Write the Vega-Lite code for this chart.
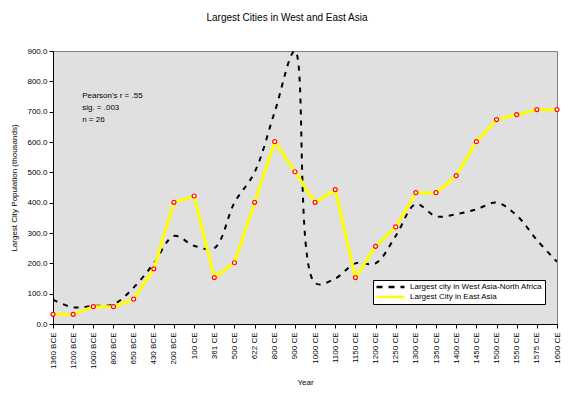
{
  "$schema": "https://vega.github.io/schema/vega-lite/v6.json",
  "width": 504,
  "height": 273,
  "autosize": "none",
  "padding": {"left": 53, "top": 51, "right": 19, "bottom": 70},
  "background": "white",
  "config": {
    "font": "Liberation Sans",
    "view": {"fill": "#E0E0E0", "stroke": "#808080", "strokeWidth": 1},
    "axis": {"grid": false, "domainColor": "black", "tickColor": "black", "labelColor": "black", "titleColor": "black", "labelFontSize": 8, "titleFontSize": 8, "titleFontWeight": "normal", "tickSize": 4}
  },
  "title": {"text": "Largest Cities in West and East Asia", "fontSize": 10, "fontWeight": "normal", "color": "black", "offset": 24, "anchor": "middle", "frame": "bounds"},
  "data": {"values": [
    {"year": "1360 BCE", "series": "Largest city in West Asia-North Africa", "value": 80},
    {"year": "1200 BCE", "series": "Largest city in West Asia-North Africa", "value": 55},
    {"year": "1000 BCE", "series": "Largest city in West Asia-North Africa", "value": 60},
    {"year": "800 BCE", "series": "Largest city in West Asia-North Africa", "value": 65},
    {"year": "650 BCE", "series": "Largest city in West Asia-North Africa", "value": 120},
    {"year": "430 BCE", "series": "Largest city in West Asia-North Africa", "value": 200},
    {"year": "200 BCE", "series": "Largest city in West Asia-North Africa", "value": 290},
    {"year": "100 CE", "series": "Largest city in West Asia-North Africa", "value": 258},
    {"year": "361 CE", "series": "Largest city in West Asia-North Africa", "value": 250},
    {"year": "500 CE", "series": "Largest city in West Asia-North Africa", "value": 400},
    {"year": "622 CE", "series": "Largest city in West Asia-North Africa", "value": 500},
    {"year": "800 CE", "series": "Largest city in West Asia-North Africa", "value": 700},
    {"year": "900 CE", "series": "Largest city in West Asia-North Africa", "value": 900},
    {"year": "1000 CE", "series": "Largest city in West Asia-North Africa", "value": 135},
    {"year": "1100 CE", "series": "Largest city in West Asia-North Africa", "value": 150},
    {"year": "1150 CE", "series": "Largest city in West Asia-North Africa", "value": 200},
    {"year": "1200 CE", "series": "Largest city in West Asia-North Africa", "value": 200},
    {"year": "1250 CE", "series": "Largest city in West Asia-North Africa", "value": 290},
    {"year": "1300 CE", "series": "Largest city in West Asia-North Africa", "value": 395},
    {"year": "1350 CE", "series": "Largest city in West Asia-North Africa", "value": 355},
    {"year": "1400 CE", "series": "Largest city in West Asia-North Africa", "value": 362},
    {"year": "1450 CE", "series": "Largest city in West Asia-North Africa", "value": 378},
    {"year": "1500 CE", "series": "Largest city in West Asia-North Africa", "value": 400},
    {"year": "1550 CE", "series": "Largest city in West Asia-North Africa", "value": 358},
    {"year": "1575 CE", "series": "Largest city in West Asia-North Africa", "value": 277},
    {"year": "1600 CE", "series": "Largest city in West Asia-North Africa", "value": 205},
    {"year": "1360 BCE", "series": "Largest City in East Asia", "value": 32},
    {"year": "1200 BCE", "series": "Largest City in East Asia", "value": 32},
    {"year": "1000 BCE", "series": "Largest City in East Asia", "value": 57},
    {"year": "800 BCE", "series": "Largest City in East Asia", "value": 57},
    {"year": "650 BCE", "series": "Largest City in East Asia", "value": 82},
    {"year": "430 BCE", "series": "Largest City in East Asia", "value": 182},
    {"year": "200 BCE", "series": "Largest City in East Asia", "value": 401},
    {"year": "100 CE", "series": "Largest City in East Asia", "value": 422},
    {"year": "361 CE", "series": "Largest City in East Asia", "value": 153},
    {"year": "500 CE", "series": "Largest City in East Asia", "value": 202},
    {"year": "622 CE", "series": "Largest City in East Asia", "value": 401},
    {"year": "800 CE", "series": "Largest City in East Asia", "value": 601},
    {"year": "900 CE", "series": "Largest City in East Asia", "value": 502},
    {"year": "1000 CE", "series": "Largest City in East Asia", "value": 401},
    {"year": "1100 CE", "series": "Largest City in East Asia", "value": 443},
    {"year": "1150 CE", "series": "Largest City in East Asia", "value": 153},
    {"year": "1200 CE", "series": "Largest City in East Asia", "value": 256},
    {"year": "1250 CE", "series": "Largest City in East Asia", "value": 320},
    {"year": "1300 CE", "series": "Largest City in East Asia", "value": 433},
    {"year": "1350 CE", "series": "Largest City in East Asia", "value": 433},
    {"year": "1400 CE", "series": "Largest City in East Asia", "value": 489},
    {"year": "1450 CE", "series": "Largest City in East Asia", "value": 601},
    {"year": "1500 CE", "series": "Largest City in East Asia", "value": 674},
    {"year": "1550 CE", "series": "Largest City in East Asia", "value": 690},
    {"year": "1575 CE", "series": "Largest City in East Asia", "value": 707},
    {"year": "1600 CE", "series": "Largest City in East Asia", "value": 707}
  ]},
  "encoding": {
    "x": {"field": "year", "type": "ordinal", "sort": null, "scale": {"type": "point", "padding": 0},
      "axis": {"title": "Year", "labelAngle": -90, "labelAlign": "right", "labelBaseline": "middle", "labelPadding": 4, "titlePadding": 10}},
    "y": {"field": "value", "type": "quantitative", "scale": {"domain": [0, 900], "nice": false},
      "axis": {"title": "Largest City Population (thousands)", "values": [0,100,200,300,400,500,600,700,800,900], "format": ".1f", "labelPadding": 2, "titlePadding": 8}}
  },
  "layer": [
    {
      "transform": [{"filter": "datum.series === 'Largest city in West Asia-North Africa'"}],
      "mark": {"type": "line", "interpolate": "catmull-rom", "clip": true, "color": "black", "strokeWidth": 2, "strokeDash": [5, 6]}
    },
    {
      "transform": [{"filter": "datum.series === 'Largest City in East Asia'"}],
      "mark": {"type": "line", "color": "#FFFF00", "strokeWidth": 3}
    },
    {
      "transform": [{"filter": "datum.series === 'Largest City in East Asia'"}],
      "mark": {"type": "point", "shape": "circle", "size": 16, "filled": false, "stroke": "#FF0000", "fill": "white", "fillOpacity": 1, "strokeWidth": 1.2, "opacity": 1}
    },
    {
      "mark": {"type": "line", "opacity": 0, "strokeWidth": 2},
      "encoding": {
        "color": {"field": "series", "type": "nominal",
          "scale": {"domain": ["Largest city in West Asia-North Africa", "Largest City in East Asia"], "range": ["black", "#FFFF00"]},
          "legend": {"title": null, "orient": "none", "legendX": 320, "legendY": 229, "symbolType": "stroke", "symbolSize": 784, "symbolStrokeWidth": 2.5, "symbolOpacity": 1, "labelFontSize": 8, "labelColor": "black", "fillColor": "white", "strokeColor": "black", "padding": 2, "rowPadding": 0, "clipHeight": 10, "labelOffset": 4}},
        "strokeDash": {"field": "series", "type": "nominal",
          "scale": {"domain": ["Largest city in West Asia-North Africa", "Largest City in East Asia"], "range": [[6, 6], [1, 0]]}}
      }
    },
    {
      "data": {"values": [{"year": "1200 BCE", "value": 765}]},
      "mark": {"type": "text", "align": "left", "baseline": "top", "dx": 9, "fontSize": 8, "color": "black", "lineHeight": 12,
        "text": ["Pearson's r = .55", "sig. = .003", "n = 26"]}
    }
  ]
}
